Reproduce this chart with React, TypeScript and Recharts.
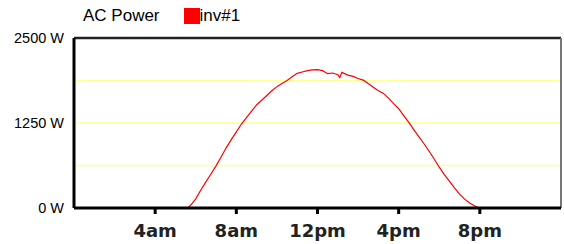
import React from 'react';
import { LineChart, Line, XAxis, YAxis, ReferenceLine } from 'recharts';

// hour of day (decimal) and AC power in watts for inv#1
const hours = [
  5.6, 5.75, 6.0, 6.25, 6.5, 6.75, 7.0, 7.25, 7.5, 7.75, 8.0, 8.25, 8.5, 8.75,
  9.0, 9.25, 9.5, 9.75, 10.0, 10.25, 10.5, 10.75, 11.0, 11.25, 11.5, 11.75,
  12.0, 12.25, 12.5, 12.75, 13.0, 13.1, 13.2, 13.5, 13.75, 14.0, 14.25, 14.5,
  14.75, 15.0, 15.25, 15.5, 15.75, 16.0, 16.25, 16.5, 16.75, 17.0, 17.25, 17.5,
  17.75, 18.0, 18.25, 18.5, 18.75, 19.0, 19.25, 19.5, 19.75, 19.9, 20.0,
];
const inv1 = [
  0, 40, 135, 265, 385, 500, 620, 750, 885, 1005, 1120, 1235, 1330, 1425,
  1515, 1585, 1655, 1725, 1785, 1830, 1875, 1930, 1980, 2000, 2020, 2030,
  2035, 2020, 1975, 1985, 1960, 1920, 1995, 1955, 1935, 1905, 1880, 1830,
  1775, 1725, 1685, 1615, 1535, 1460, 1360, 1260, 1150, 1045, 945, 835,
  720, 600, 490, 395, 295, 205, 130, 75, 30, 10, 0,
];

const xTicks = [4, 8, 12, 16, 20];
const xTickLabels = ['4am', '8am', '12pm', '4pm', '8pm'];
const yTicks = [0, 1250, 2500];
const gridValues = [625, 1250, 1875];

const data = hours.map((h, i) => ({ h, w: inv1[i] }));

export default function App() {
  return (
    <div style={{ position: 'relative', width: 564, height: 244, background: '#fff' }}>
      <style>{'body{margin:0}'}</style>
      <div
        style={{
          position: 'absolute', top: 6, left: 83, display: 'flex', alignItems: 'center',
          fontFamily: 'Arial, "Liberation Sans", sans-serif', fontSize: 17, color: '#000', lineHeight: '19px',
        }}
      >
        <span>AC Power</span>
        <span style={{ display: 'inline-block', width: 16, height: 16, background: '#ff0000', marginLeft: 24 }} />
        <span>inv#1</span>
      </div>
      <LineChart width={564} height={244} data={data} margin={{ top: 38, right: 3, bottom: 6, left: 0 }}>
        {gridValues.map((v) => (
          <ReferenceLine key={v} y={v} stroke="#ffff99" strokeWidth={1.5} />
        ))}
        <ReferenceLine y={2500} stroke="#222" strokeWidth={2.5} />
        <ReferenceLine x={24} stroke="#777" strokeWidth={2} />
        <XAxis
          type="number"
          dataKey="h"
          domain={[0, 24]}
          ticks={xTicks}
          tickFormatter={(v: number) => xTickLabels[xTicks.indexOf(v)]}
          axisLine={{ stroke: '#000', strokeWidth: 3 }}
          tickLine={{ stroke: '#000', strokeWidth: 3 }}
          tickSize={6}
          tickMargin={10}
          tick={{ fill: '#222', fontFamily: '"DejaVu Sans", sans-serif', fontWeight: 'bold', fontSize: 18 }}
          interval={0}
        />
        <YAxis
          domain={[0, 2500]}
          ticks={yTicks}
          width={74}
          tickFormatter={(v: number) => `${v} W`}
          axisLine={{ stroke: '#000', strokeWidth: 3 }}
          tickLine={false}
          tickMargin={4}
          tick={{ fill: '#000', fontFamily: 'Arial, "Liberation Sans", sans-serif', fontSize: 14.5 }}
          interval={0}
        />
        <Line type="linear" dataKey="w" stroke="#ff0000" strokeWidth={1.2} dot={false} isAnimationActive={false} />
      </LineChart>
    </div>
  );
}
